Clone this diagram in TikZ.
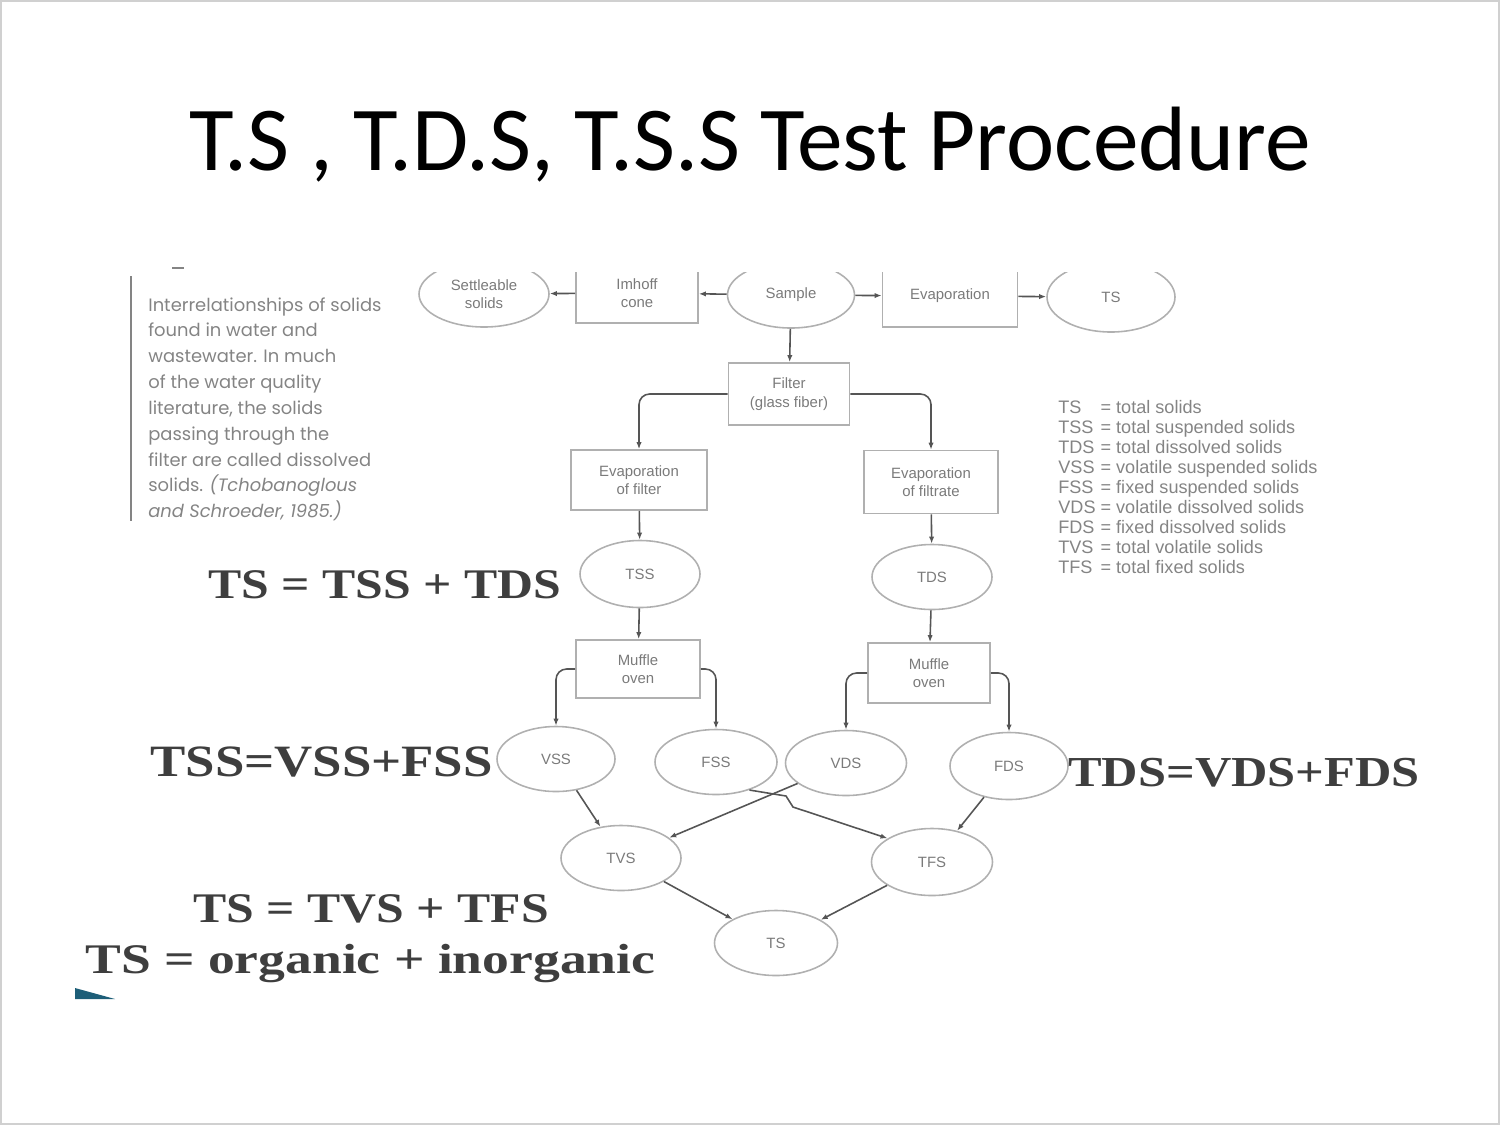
\documentclass[tikz,border=0pt]{standalone}
\usepackage{fontspec}
\setmainfont{Liberation Serif}
\setsansfont{Liberation Sans}
\newfontfamily\titlefont{Carlito}
\newfontfamily\capfont{Poppins}
\newfontfamily\eqfont{Liberation Serif}[FakeStretch=1.18]
\newfontfamily\eqwidefont{Liberation Serif}[FakeStretch=1.27]
\usetikzlibrary{arrows.meta, positioning, shapes.geometric, calc}
\definecolor{lineGray}{HTML}{555555}
\definecolor{boxGray}{HTML}{B0B0B0}
\definecolor{textGray}{HTML}{7A7A7A}
\definecolor{capGray}{HTML}{848484}
\definecolor{eqGray}{HTML}{3E3E3E}
\definecolor{slideTeal}{HTML}{1D5E78}

\tikzset{
  box/.style={rectangle, draw=boxGray, line width=0.9pt, align=center, inner sep=0pt,
    font=\sffamily\fontsize{8.5}{10.5}\selectfont, text=textGray},
  oval/.style={ellipse, draw=boxGray, line width=0.9pt, align=center, inner sep=0pt,
    font=\sffamily\fontsize{8.5}{10.5}\selectfont, text=textGray},
  conn/.style={draw=lineGray, line width=0.9pt, -{Latex[length=4pt,width=3pt]}},
  eq/.style={anchor=base west, inner sep=0pt, text=eqGray,
    font=\eqfont\bfseries\fontsize{24}{28}\selectfont},
}

\begin{document}
\begin{tikzpicture}[x=0.2mm, y=-0.2mm]
  \useasboundingbox (0,0) rectangle (1500,1125);
  \draw[boxGray!60, line width=0.6pt] (1,1) rectangle (1499,1124);

  % slide title
  \node[anchor=base, inner sep=0pt, font=\titlefont\fontsize{52}{60}\selectfont] (title)
    at (750,170) {T.S , T.D.S, T.S.S Test Procedure};

  % figure caption on the left
  \draw[capGray, line width=1.6pt] (131,276) -- (131,521);
  \draw[capGray, line width=1.2pt] (172,268) -- (184,268);
  \node[anchor=north west, inner sep=0pt, align=left, text=capGray,
        font=\capfont\fontsize{10.2}{14.7}\selectfont] (caption) at (148,297)
    {Interrelationships of solids\\ found in water and\\ wastewater. In much\\
     of the water quality\\ literature, the solids\\ passing through the\\
     filter are called dissolved\\ solids. \textit{(Tchobanoglous}\\
     \textit{and Schroeder, 1985.)}};

  % top row, cut off by the edge of the scan
  \begin{scope}
    \clip (0,272) rectangle (1500,1125);
    \node[oval, minimum width=26mm, minimum height=13.2mm] (settle) at (484,294) {Settleable\\solids};
    \node[box, minimum width=24.4mm, minimum height=12mm] (imhoff) at (637,293) {Imhoff\\cone};
    \node[oval, minimum width=25.4mm, minimum height=13.2mm] (sample) at (791,295) {Sample};
    \node[box, minimum width=27mm, minimum height=12.4mm] (evapTop) at (950,296) {Evaporation};
    \node[oval, minimum width=25.6mm, minimum height=14mm] (tsTop) at (1111,297) {TS};
  \end{scope}

  \node[box, minimum width=24.2mm, minimum height=12.4mm] (filter) at (789,394) {Filter\\(glass fiber)};
  \node[box, minimum width=27.2mm, minimum height=12mm] (evapFilter) at (639,480) {Evaporation\\of filter};
  \node[box, minimum width=26.8mm, minimum height=12.6mm] (evapFiltrate) at (931,482) {Evaporation\\of filtrate};
  \node[oval, minimum width=24mm, minimum height=13.4mm] (tss) at (640,574) {TSS};
  \node[oval, minimum width=24mm, minimum height=13mm] (tds) at (932,577) {TDS};
  \node[box, minimum width=24.8mm, minimum height=11.6mm] (muffleL) at (638,669) {Muffle\\oven};
  \node[box, minimum width=24.4mm, minimum height=12mm] (muffleR) at (929,673) {Muffle\\oven};
  \node[oval, minimum width=23.6mm, minimum height=13mm] (vss) at (556,759) {VSS};
  \node[oval, minimum width=24.4mm, minimum height=13mm] (fss) at (716,762) {FSS};
  \node[oval, minimum width=24.2mm, minimum height=13mm] (vds) at (846,763) {VDS};
  \node[oval, minimum width=23.6mm, minimum height=13.4mm] (fds) at (1009,766) {FDS};
  \node[oval, minimum width=24mm, minimum height=13mm] (tvs) at (621,858) {TVS};
  \node[oval, minimum width=24.2mm, minimum height=13.4mm] (tfs) at (932,862) {TFS};
  \node[oval, minimum width=24.6mm, minimum height=13mm] (tsBottom) at (776,943) {TS};

  % connectors
  \draw[conn] (sample) -- (imhoff);
  \draw[conn] (imhoff) -- (settle);
  \draw[conn] (sample) -- (evapTop);
  \draw[conn] (evapTop) -- (tsTop);
  \draw[conn] (sample) -- (filter);
  \draw[conn, rounded corners=6pt] (filter.west) -| (evapFilter.north);
  \draw[conn, rounded corners=6pt] (filter.east) -| (evapFiltrate.north);
  \draw[conn] (evapFilter) -- (tss);
  \draw[conn] (evapFiltrate) -- (tds);
  \draw[conn] (tss) -- (muffleL);
  \draw[conn] (tds) -- (muffleR);
  \draw[conn, rounded corners=6pt] (muffleL.west) -| (vss.north);
  \draw[conn, rounded corners=6pt] (muffleL.east) -| (fss.north);
  \draw[conn, rounded corners=6pt] (muffleR.west) -| (vds.north);
  \draw[conn, rounded corners=6pt] (muffleR.east) -| (fds.north);
  \draw[conn] (vss) -- (tvs);
  \draw[conn] (vds) -- (tvs);
  \coordinate (hopA) at (786,796);
  \coordinate (hopB) at (793,807);
  \draw[conn] (fss.-40) -- (hopA) -- (hopB) -- (tfs.152);
  \draw[conn] (fds) -- (tfs);
  \draw[conn] (tvs) -- (tsBottom);
  \draw[conn] (tfs) -- (tsBottom);

  % legend
  \node[anchor=base west, inner sep=0pt, text=capGray,
        font=\sffamily\fontsize{10.3}{11.4}\selectfont] (legend) at (1058,413)
    {\begin{tabular}[t]{@{}l@{ = }l@{}}
      TS & total solids\\
      TSS & total suspended solids\\
      TDS & total dissolved solids\\
      VSS & volatile suspended solids\\
      FSS & fixed suspended solids\\
      VDS & volatile dissolved solids\\
      FDS & fixed dissolved solids\\
      TVS & total volatile solids\\
      TFS & total fixed solids
    \end{tabular}};

  % relations written over the figure
  \node[eq] (eqTotal) at (208,598) {TS = TSS + TDS};
  \node[eq, font=\eqfont\bfseries\fontsize{25.5}{28}\selectfont] (eqSusp) at (150,776) {TSS=VSS+FSS};
  \node[eq, font=\eqfont\bfseries\fontsize{24.3}{28}\selectfont] (eqDiss) at (1068,786) {TDS=VDS+FDS};
  \node[eq] (eqVolatile) at (193,922) {TS = TVS + TFS};
  \node[eq, font=\eqwidefont\bfseries\fontsize{24}{28}\selectfont] (eqOrganic) at (85,973) {TS = organic + inorganic};

  \fill[slideTeal] (75,988) -- (115,999) -- (75,999) -- cycle;
\end{tikzpicture}
\end{document}
